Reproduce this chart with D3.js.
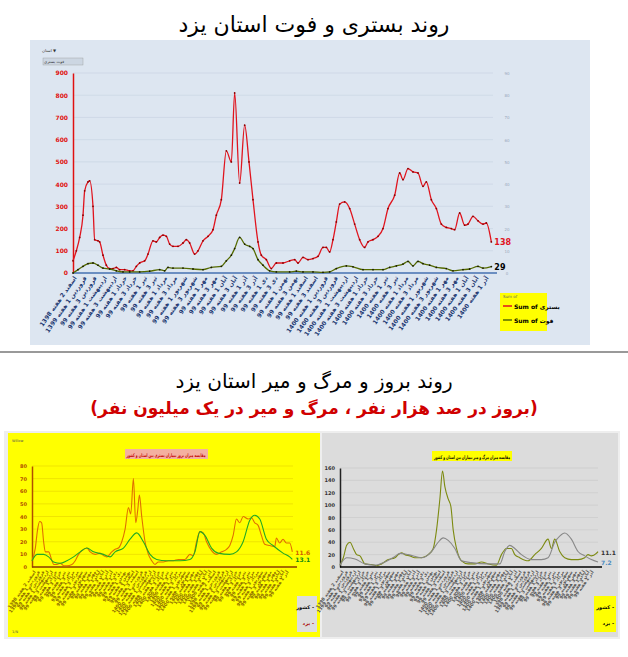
<!DOCTYPE html><html><head><meta charset="utf-8"><script src="https://cdn.jsdelivr.net/npm/d3@7"></script>
<style>body{margin:0;background:#fff}svg{display:block}text{font-family:"DejaVu Sans",sans-serif}</style></head><body>
<script>
// ---- data (week position, value) ----
const hospRed=[[130,55],[140,100],[150,160],[160,260],[165,370],[175,410],[180,415],[190,300],[195,150],[205,145],[210,140],[220,80],[230,35],[240,20],[250,20],[260,25],[270,15],[285,15],[300,10],[310,10],[320,30],[330,45],[345,55],[355,85],[370,145],[380,140],[390,160],[400,170],[410,165],[420,130],[430,120],[445,120],[460,135],[470,150],[480,135],[495,85],[505,100],[520,145],[535,165],[550,195],[560,260],[575,330],[590,550],[605,500],[615,810],[630,405],[645,665],[658,500],[670,330],[685,140],[695,80],[710,60],[725,20],[740,45],[760,45],[780,55],[795,60],[805,45],[820,70],[835,60],[850,65],[865,75],[880,115],[890,115],[900,95],[910,150],[920,230],[930,310],[945,320],[960,290],[975,220],[990,150],[1005,115],[1015,140],[1030,150],[1045,165],[1060,200],[1075,290],[1095,350],[1110,450],[1120,420],[1135,470],[1150,455],[1165,450],[1180,390],[1190,410],[1205,330],[1220,290],[1235,220],[1250,205],[1265,200],[1275,195],[1290,270],[1305,215],[1315,220],[1330,255],[1345,235],[1360,220],[1370,225],[1385,140]];
const deathGreen=[[130,0],[145,15],[160,30],[175,42],[190,45],[205,35],[220,22],[240,18],[260,10],[280,5],[300,5],[330,5],[360,8],[390,15],[405,10],[415,25],[430,22],[460,22],[490,18],[520,15],[545,25],[575,30],[590,55],[605,80],[615,110],[630,160],[645,130],[660,120],[670,110],[685,60],[700,35],[720,10],[740,5],[780,5],[800,8],[820,5],[850,5],[880,3],[900,5],[920,20],[950,32],[970,28],[1000,15],[1030,15],[1060,15],[1080,25],[1100,32],[1120,40],[1135,52],[1150,32],[1165,52],[1180,42],[1200,35],[1220,25],[1250,20],[1270,10],[1300,15],[1320,18],[1345,30],[1360,22],[1385,29]];
const hospTicks=[0,100,200,300,400,500,600,700,800,900];
const weekLabels=["1398 اسفند 2 هفته","1399 فروردین 1 هفته","99 فروردین 3 هفته","99 اردیبهشت 1 هفته","99 اردیبهشت 3 هفته","99 خرداد 1 هفته","99 خرداد 3 هفته","99 تیر 1 هفته","99 تیر 3 هفته","99 مرداد 1 هفته","99 مرداد 3 هفته","99 شهریور 1 هفته","99 شهریور 3 هفته","99 مهر 1 هفته","99 مهر 3 هفته","99 آبان 1 هفته","99 آبان 3 هفته","99 آذر 1 هفته","99 آذر 3 هفته","99 دی 1 هفته","99 دی 3 هفته","99 بهمن 1 هفته","99 بهمن 3 هفته","99 اسفند 1 هفته","99 اسفند 3 هفته","1400 فروردین 1 هفته","1400 فروردین 3 هفته","1400 اردیبهشت 1 هفته","1400 اردیبهشت 3 هفته","1400 خرداد 1 هفته","1400 خرداد 3 هفته","1400 تیر 1 هفته","1400 تیر 3 هفته","1400 مرداد 1 هفته","1400 مرداد 3 هفته","1400 شهریور 1 هفته","1400 شهریور 3 هفته","1400 مهر 1 هفته","1400 مهر 3 هفته","1400 آبان 1 هفته","1400 آبان 3 هفته","1400 آذر 1 هفته"];
const incOrange=[[95,5],[105,15],[112,30],[118,36],[124,35],[130,20],[135,12],[145,12],[155,5],[160,2],[170,2],[180,3],[190,1],[200,1],[215,2],[225,5],[235,10],[245,13],[260,15],[270,12],[285,10],[300,11],[310,9],[320,8],[335,12],[345,14],[355,15],[365,20],[375,30],[385,47],[392,42],[400,70],[407,35],[413,45],[418,57],[425,40],[435,20],[445,10],[455,5],[465,2],[475,4],[490,4],[505,5],[520,5],[535,6],[555,6],[570,10],[580,9],[590,20],[600,28],[610,27],[620,20],[635,13],[650,10],[665,12],[680,14],[690,17],[700,25],[710,38],[720,35],[730,40],[745,38],[755,39],[765,35],[775,33],[785,25],[795,18],[810,17],[825,16],[830,23],[840,19],[850,22],[860,19],[870,19],[878,12]];
const incGreen=[[95,5],[110,10],[130,10],[145,8],[160,4],[180,3],[200,5],[220,8],[240,12],[260,15],[280,12],[310,10],[330,8],[345,12],[370,15],[390,22],[410,27],[430,20],[450,10],[470,6],[500,5],[540,5],[570,6],[585,12],[600,28],[615,25],[635,15],[655,11],[690,10],[710,12],[730,20],[750,37],[765,41],[780,38],[800,22],[820,17],[850,11],[870,8],[878,6]];
const incTicks=[0,10,20,30,40,50,60,70,80];
const mortOlive=[[75,3],[85,15],[95,35],[105,40],[115,30],[125,20],[135,18],[150,5],[170,4],[185,2],[200,5],[220,12],[240,15],[250,20],[260,23],[270,20],[285,18],[300,15],[320,15],[340,20],[355,30],[365,60],[375,110],[383,155],[390,130],[400,110],[408,98],[415,60],[425,30],[440,10],[460,5],[480,5],[500,8],[520,5],[545,3],[560,20],[575,30],[590,30],[600,20],[615,15],[640,10],[660,20],[680,30],[700,45],[710,30],[720,45],[735,25],[750,15],[770,12],[790,12],[810,15],[820,20],[830,18],[845,22],[850,25]];
const mortGray=[[75,3],[95,15],[120,13],[150,5],[180,3],[210,8],[240,17],[255,22],[280,20],[320,15],[350,25],[370,40],[385,47],[400,43],[420,30],[440,10],[470,7],[520,5],[555,5],[570,25],[585,35],[600,30],[620,20],[650,12],[680,12],[700,15],[720,40],[735,50],[750,55],[770,45],[790,25],[810,18],[830,12],[850,8]];
const mortTicks=[0,20,40,60,80,100,120,140,160];

const svg=d3.select("body").append("svg").attr("width",628).attr("height",657);
const T=(x,y,s,o={})=>svg.append("text").attr("x",x).attr("y",y).text(s).attr("text-anchor",o.a||"middle").attr("font-size",o.fs||10).attr("font-weight",o.fw||"normal").attr("fill",o.c||"#000");

T(314,32,"روند بستری و فوت استان یزد",{fs:22});
svg.append("line").attr("x1",0).attr("x2",628).attr("y1",352).attr("y2",352).attr("stroke","#999").attr("stroke-width",2);
T(314,388,"روند بروز و مرگ و میر استان یزد",{fs:20});
T(314,414,"(بروز در صد هزار نفر ، مرگ و میر در یک میلیون نفر)",{fs:17,fw:"bold",c:"#d00000"});

function panel(o){
  svg.append("rect").attr("x",o.px).attr("y",o.py).attr("width",o.pw).attr("height",o.ph).attr("fill",o.bg);
  const x=d3.scaleLinear().domain(o.xd).range([o.x0,o.x1]);
  const y=d3.scaleLinear().domain([0,o.ymax]).range([o.y0,o.y1]);
  const g=svg.append("g");
  o.ticks.forEach(t=>{ if(t>0) g.append("line").attr("x1",o.x0).attr("x2",o.x1).attr("y1",y(t)).attr("y2",y(t)).attr("stroke",o.grid).attr("stroke-width",0.6);});
  const ax=g.append("g").attr("transform",`translate(${o.x0},0)`).call(d3.axisLeft(y).tickValues(o.ticks).tickSize(0).tickPadding(5));
  ax.select(".domain").attr("stroke",o.axc).attr("stroke-width",o.aw||1.5);
  ax.selectAll("text").attr("font-size",o.tfs||6).attr("fill",o.tc).attr("font-weight","bold");
  g.append("line").attr("x1",o.x0).attr("x2",o.x1+4).attr("y1",o.y0).attr("y2",o.y0).attr("stroke",o.baseC).attr("stroke-width",1.5);
  const n=o.labels.length;
  o.labels.forEach((l,i)=>{const xx=o.x0+4+i*(o.x1-o.x0-8)/(n-1);
    g.append("text").attr("transform",`translate(${xx},${o.y0+5}) rotate(-55)`).attr("text-anchor","end").attr("font-size",o.lfs||5.5).attr("fill",o.lc).attr("font-weight","bold").text(l);});
  const line=d3.line().x(d=>x(d[0])).y(d=>y(d[1])).curve(d3.curveMonotoneX);
  o.series.forEach(s=>{
    g.append("path").datum(s.d).attr("d",line).attr("fill","none").attr("stroke",s.c).attr("stroke-width",s.w||1.3);
    if(s.dots) g.selectAll(null).data(s.d).join("circle").attr("cx",d=>x(d[0])).attr("cy",d=>y(d[1])).attr("r",0.9).attr("fill",s.dots);
    const last=s.d[s.d.length-1];
    g.append("text").attr("x",x(last[0])+3).attr("y",y(last[1])+3).attr("font-size",s.lfs||8).attr("font-weight","bold").attr("fill",s.lc).text(s.end);
  });
  return {x,y,g};
}

const topC=panel({px:30,py:40,pw:560,ph:305,bg:"#dde6f1",xd:[130,1390],x0:73,x1:493,y0:273,y1:73,ymax:900,ticks:hospTicks,grid:"#c6d2e0",axc:"#e01010",tc:"#e01010",baseC:"#4470b0",labels:weekLabels,lc:"#1f3a73",lfs:6,
 series:[{d:hospRed,c:"#e0141e",w:1.3,dots:"#8a0000",end:"138",lc:"#e0141e"},{d:deathGreen,c:"#556b00",w:1.3,dots:"#1a1a00",end:"29",lc:"#000"}]});
hospTicks.forEach(t=>T(507,topC.y(t)+2,String(t/10),{fs:4,c:"#9aa8bb"}));
svg.append("rect").attr("x",500).attr("y",293).attr("width",47).attr("height",38).attr("fill","#ffff00");
T(503,298,"Sum of",{fs:4,a:"start",c:"#666"});
svg.append("line").attr("x1",503).attr("x2",512).attr("y1",306).attr("y2",306).attr("stroke","#e0141e").attr("stroke-width",1.5);
T(514,309,"Sum of بستری",{fs:6,a:"start",fw:"bold"});
svg.append("line").attr("x1",503).attr("x2",512).attr("y1",320).attr("y2",320).attr("stroke","#556b00").attr("stroke-width",1.5);
T(514,323,"Sum of فوت",{fs:6,a:"start",fw:"bold"});
T(42,52,"استان ▼",{fs:4,a:"start",c:"#333"});
svg.append("rect").attr("x",43).attr("y",58).attr("width",40).attr("height",7).attr("fill","#ccd6e2").attr("stroke","#999").attr("stroke-width",0.4);
T(44,63,"فوت  بستری",{fs:4,a:"start",c:"#333"});

svg.append("rect").attr("x",4).attr("y",431).attr("width",616).attr("height",208).attr("fill","#eee");
const bl=panel({px:8,py:433,pw:312,ph:204,bg:"#ffff00",xd:[95,880],x0:32,x1:293,y0:567,y1:466,ymax:80,ticks:incTicks,grid:"#e5d400",axc:"#b05000",tc:"#b05000",baseC:"#8a3a00",labels:weekLabels.concat(weekLabels).slice(0,60),lc:"#8a6a00",lfs:4.5,tfs:5,
 series:[{d:incOrange,c:"#e07000",w:1.1,end:"11.6",lc:"#d06000",lfs:6},{d:incGreen,c:"#22aa22",w:1.1,end:"13.1",lc:"#118811",lfs:6}]});
svg.append("rect").attr("x",125).attr("y",449).attr("width",83).attr("height",10).attr("fill","#f4b0a0");
T(166,457,"مقایسه میزان بروز بیماران بستری بین استان و کشور",{fs:5,fw:"bold",c:"#c00000"}).attr("textLength",79).attr("lengthAdjust","spacingAndGlyphs");
svg.append("rect").attr("x",297).attr("y",596).attr("width",20).attr("height",36).attr("fill","#ddd");
T(314,609,"کشور -",{fs:5,a:"end",fw:"bold"});T(314,625,"یزد -",{fs:5,a:"end",fw:"bold",c:"#a00"});
T(12,442,"Willow",{fs:3.5,a:"start",c:"#555"});T(12,633,"1/N",{fs:3.5,a:"start",c:"#555"});

const br=panel({px:322,py:433,pw:296,ph:204,bg:"#dcdcdc",xd:[75,850],x0:340,x1:598,y0:567,y1:468,ymax:160,ticks:mortTicks,grid:"#c8c8c8",axc:"#222",tc:"#333",baseC:"#000",labels:weekLabels.concat(weekLabels).slice(0,60),lc:"#555",lfs:4.5,tfs:5,
 series:[{d:mortOlive,c:"#7c8a10",w:1.1,end:"11.1",lc:"#333",lfs:6},{d:mortGray,c:"#888",w:1.1,end:"7.2",lc:"#4a8ac0",lfs:6}]});
svg.append("rect").attr("x",432).attr("y",451).attr("width",80).attr("height",10).attr("fill","#ffff00");
T(472,459,"مقایسه میزان مرگ و میر بیماران بین استان و کشور",{fs:5,fw:"bold"}).attr("textLength",76).attr("lengthAdjust","spacingAndGlyphs");
svg.append("rect").attr("x",594).attr("y",596).attr("width",22).attr("height",36).attr("fill","#ffff00");
T(614,609,"کشور -",{fs:5,a:"end",fw:"bold"});T(614,625,"یزد -",{fs:5,a:"end",fw:"bold"});
</script></body></html>
